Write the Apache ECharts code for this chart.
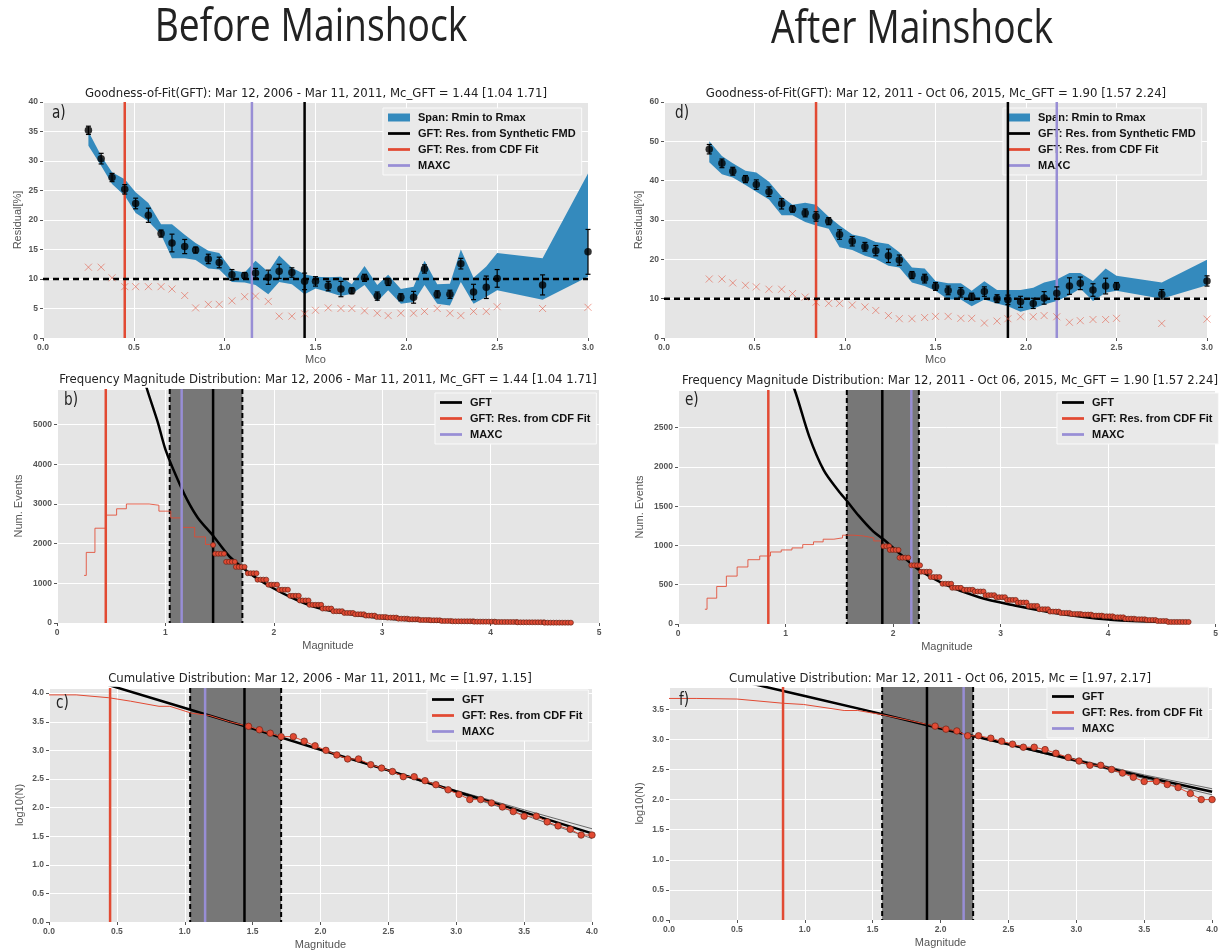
<!DOCTYPE html>
<html><head><meta charset="utf-8">
<script src="https://cdn.jsdelivr.net/npm/echarts@6/dist/echarts.min.js"></script>
<style>html,body{margin:0;padding:0;background:#fff}#chart{width:1221px;height:951px}</style>
</head><body><div id="chart"></div>
<script>
// ---------- Panel a / d : Goodness-of-fit ----------
const mco = [0.25,0.32,0.38,0.45,0.51,0.58,0.65,0.71,0.78,0.84,0.91,0.97,1.04,1.11,1.17,1.24,1.30,1.37,1.44,1.50,1.57,1.64,1.70,1.77,1.84,1.90,1.97,2.04,2.10,2.17,2.24,2.30,2.37,2.44,2.50,2.75,3.00];
const gftBefore    = [35.2,30.4,27.2,25.2,22.8,20.8,17.7,16.1,15.5,14.9,13.4,12.8,10.7,10.6,11.0,10.3,11.3,11.1,9.6,9.6,8.8,8.3,8.0,10.2,7.1,9.5,6.9,6.9,11.7,7.4,7.4,12.6,7.8,8.6,10.1,9.0,14.6];
const gftBeforeErr = [0.7,0.9,0.7,0.8,0.9,1.2,0.6,1.5,1.2,0.5,0.8,0.9,0.9,0.5,0.8,1.2,1.2,0.8,1.4,0.8,0.8,1.3,0.5,0.6,0.7,0.6,0.6,1.0,0.7,0.6,0.7,0.9,1.3,1.9,1.5,1.7,3.8];
const spanBeforeMax = [35.0,30.9,28.1,26.9,24.7,22.9,19.3,19.3,17.5,16.1,14.8,14.4,11.5,11.1,13.1,11.2,14.0,11.9,10.8,10.4,10.3,10.4,9.1,12.2,9.0,10.7,8.3,8.7,13.1,9.1,9.2,15.0,10.2,12.1,14.4,13.5,27.9];
const spanBeforeMin = [32.6,29.2,26.1,24.1,21.2,19.8,17.5,13.5,13.5,13.2,11.8,11.6,9.5,9.4,9.0,7.4,9.5,9.1,7.4,8.4,7.8,7.1,7.5,9.0,6.2,8.1,5.8,6.1,9.0,5.8,5.5,9.5,5.8,7.0,8.1,6.5,10.4];
const cdfResBefore = [12.0,12.0,10.2,8.7,8.7,8.7,8.7,8.3,7.2,5.1,5.7,5.7,6.3,7.0,7.1,6.2,3.7,3.7,4.1,4.7,5.1,5.0,5.0,4.6,4.2,3.8,4.2,4.2,4.5,5.0,4.2,3.8,4.5,4.5,5.3,5.0,5.2];

const gftAfter    = [48.0,44.4,42.4,40.4,39.0,37.2,34.1,32.8,31.8,30.9,29.7,26.3,24.6,23.2,22.2,20.9,19.8,16.0,15.1,13.1,12.1,11.6,10.5,11.8,10.0,9.7,9.2,8.8,10.2,11.4,13.2,13.9,12.2,13.2,13.2,11.1,14.5];
const gftAfterErr = [1.2,1.1,1.0,0.9,1.2,1.2,1.3,0.8,1.0,1.2,0.9,1.2,1.2,1.1,1.3,1.7,1.3,0.9,1.1,1.0,1.1,1.2,0.9,1.2,1.0,1.2,1.4,1.3,1.6,1.6,2.1,1.6,1.6,2.0,0.9,1.2,1.3];
const spanAfterMax = [50.0,46.3,44.4,42.5,42.1,39.7,35.9,33.9,34.4,33.9,30.8,28.6,26.3,25.6,24.4,23.9,21.8,17.9,17.7,14.5,13.9,13.9,12.0,14.4,12.2,12.2,12.2,12.8,14.1,14.9,16.5,16.5,14.5,17.7,15.8,14.1,19.9];
const spanAfterMin = [44.7,41.6,40.8,38.9,37.2,35.2,31.2,31.2,29.5,28.6,27.8,23.1,22.4,20.9,20.1,18.4,17.9,14.1,13.2,12.0,9.8,9.8,8.1,9.8,8.8,8.1,6.7,7.5,8.5,9.4,10.9,12.6,9.4,11.5,12.0,10.0,13.4];
const cdfResAfter = [15.0,15.0,14.0,13.4,13.0,12.4,12.4,11.3,10.4,9.1,8.8,8.8,8.4,7.9,7.0,5.7,4.9,4.9,5.2,5.5,5.5,5.0,5.0,3.8,4.3,4.9,5.4,5.4,5.7,5.4,4.0,4.4,4.7,4.7,5.0,3.7,4.8];

// Mc estimates: [CDF fit, GFT, MAXC, GFT low, GFT high]
const mcBefore = [0.45, 1.44, 1.15, 1.04, 1.71];
const mcAfter  = [0.84, 1.90, 2.17, 1.57, 2.24];

// ---------- Panel b / e : frequency magnitude distribution ----------
const fmdLowBeforeM = [0.25,0.27,0.35,0.45,0.55,0.64,0.85,0.94,1.05,1.15,1.27,1.37,1.44];
const fmdLowBeforeN = [1200,1780,2390,2720,2880,3000,2970,2820,2650,2410,2170,1980,1980];
const fmdBinBeforeM = [1.44,1.46,1.56,1.65,1.76,1.85,1.95,2.05,2.15,2.24,2.33,2.45,2.55,2.65,2.75,2.85,2.95,3.05,3.15,3.25,3.35,3.45,3.55,3.65,3.85,4.05,4.25,4.50,4.76];
const fmdBinBeforeN = [1966,1746,1542,1415,1254,1093,966,839,686,568,458,364,297,254,220,186,152,136,110,93,76,68,51,42,34,25,17,8];
const gftFmdBeforeM = [0.78,0.83,0.93,1.00,1.10,1.20,1.30,1.44,1.59,1.71,1.82,2.00,2.15,2.35,2.64,3.00,3.47,4.00,4.75];
const gftFmdBeforeN = [6400,5900,5060,4380,3700,3110,2650,2200,1680,1400,1170,870,660,430,250,120,45,17,3];

const fmdLowAfterM = [0.25,0.27,0.36,0.45,0.55,0.65,0.76,0.86,0.96,1.06,1.16,1.26,1.35,1.45,1.53,1.63,1.72,1.82,1.89,1.91];
const fmdLowAfterN = [188,329,478,610,726,819,866,917,943,969,1011,1046,1080,1097,1131,1122,1097,1058,1007,990];
const fmdBinAfterM = [1.91,1.97,2.06,2.17,2.26,2.35,2.46,2.55,2.66,2.76,2.86,2.96,3.06,3.16,3.26,3.36,3.46,3.56,3.66,3.76,3.86,3.96,4.06,4.16,4.26,4.36,4.46,4.56,4.76];
const fmdBinAfterN = [990,943,845,747,666,598,512,461,435,414,367,341,307,273,230,188,158,141,128,120,107,98,85,68,60,51,38,26];
const gftFmdAfterM = [1.02,1.085,1.22,1.355,1.49,1.575,1.68,1.815,1.91,2.08,2.24,2.47,2.80,3.13,3.46,3.79,4.12,4.74];
const gftFmdAfterN = [3150,2980,2390,1960,1700,1560,1380,1180,1080,875,690,512,340,235,150,85,43,17];

// ---------- Panel c / f : cumulative distribution ----------
const cdfLowBeforeM = [0.00,0.20,0.44,0.60,0.81,0.89,1.05,1.18,1.33,1.47];
const cdfLowBeforeV = [3.97,3.97,3.92,3.86,3.77,3.77,3.65,3.61,3.50,3.42];
const cdfPtsBeforeM = [1.47,1.55,1.63,1.71,1.80,1.88,1.96,2.04,2.12,2.20,2.28,2.37,2.45,2.53,2.61,2.69,2.77,2.85,2.94,3.02,3.10,3.18,3.26,3.34,3.42,3.50,3.59,3.67,3.75,3.84,3.92,4.00];
const cdfPtsBeforeV = [3.42,3.36,3.30,3.24,3.24,3.16,3.08,3.00,2.92,2.85,2.85,2.75,2.69,2.63,2.54,2.54,2.47,2.40,2.31,2.23,2.14,2.14,2.08,2.01,1.93,1.85,1.85,1.75,1.68,1.62,1.52,1.52];
const gftCdfBeforeM  = [0.40,1.00,1.50,2.00,2.50,3.00,3.50,4.00];
const gftCdfBeforeV  = [4.17,3.74,3.38,3.01,2.65,2.28,1.92,1.55];
const gftCdfBeforeV2 = [4.17,3.74,3.38,3.01,2.66,2.30,1.96,1.63];
const gftCdfBeforeV3 = [4.17,3.74,3.38,3.01,2.64,2.26,1.87,1.46];

const cdfLowAfterM = [0.00,0.20,0.50,0.84,0.99,1.29,1.39,1.57,1.78,1.96];
const cdfLowAfterV = [3.68,3.68,3.67,3.60,3.58,3.48,3.48,3.41,3.31,3.22];
const cdfPtsAfterM = [1.96,2.04,2.12,2.20,2.28,2.37,2.45,2.53,2.61,2.69,2.77,2.85,2.94,3.02,3.10,3.18,3.26,3.34,3.42,3.50,3.59,3.67,3.75,3.84,3.92,4.00];
const cdfPtsAfterV = [3.22,3.17,3.14,3.06,3.06,3.02,2.97,2.92,2.87,2.87,2.83,2.77,2.70,2.64,2.57,2.57,2.50,2.44,2.37,2.30,2.30,2.25,2.20,2.10,2.00,2.00];
const gftCdfAfterM  = [0.60,1.00,1.57,2.00,2.50,3.00,3.50,4.00];
const gftCdfAfterV  = [3.93,3.72,3.42,3.18,2.92,2.65,2.38,2.13];
const gftCdfAfterV2 = [3.93,3.72,3.42,3.18,2.93,2.67,2.41,2.18];
const gftCdfAfterV3 = [3.93,3.72,3.42,3.18,2.91,2.63,2.35,2.08];

// ---------- axis ranges ----------
const yMaxA = 40, yMaxD = 60, yMaxB = 5900, yMaxE = 2980, yMaxC = 4.09, yMaxF = 3.87;

const RED = '#E24A33', BLUE = '#348ABD', PURPLE = '#988ED5', GRAYSPAN = '#777777';
const zip = (a, b) => a.map((v, i) => [v, b[i]]);

// ---------- builders ----------
const TICKFONT = 'Liberation Sans';
function xAxis(gi, min, max, interval, fmt, name, gap) {
  return { type: 'value', gridIndex: gi, min, max, interval, name, nameLocation: 'middle', nameGap: gap,
    nameTextStyle: { color: '#555', fontSize: 11, fontFamily: TICKFONT },
    axisLine: { show: false }, axisTick: { show: true, length: 3, lineStyle: { color: '#555' } },
    axisLabel: { color: '#555', fontSize: 8.5, fontWeight: 'bold', fontFamily: TICKFONT, margin: 5, formatter: fmt },
    splitLine: { show: true, lineStyle: { color: '#ffffff', width: 1 } } };
}
function yAxis(gi, max, interval, fmt, name, gap, hideMax) {
  return { type: 'value', gridIndex: gi, min: 0, max, interval, name, nameLocation: 'middle', nameGap: gap,
    nameTextStyle: { color: '#555', fontSize: 11, fontFamily: TICKFONT },
    axisLine: { show: false }, axisTick: { show: true, length: 3, lineStyle: { color: '#555' } },
    axisLabel: { color: '#555', fontSize: 8.5, fontWeight: 'bold', fontFamily: TICKFONT, margin: 5, formatter: fmt, showMaxLabel: !hideMax },
    splitLine: { show: true, lineStyle: { color: '#ffffff', width: 1 } } };
}
function vline(gi, name, x, ymax, color, width, z) {
  return { type: 'line', name, xAxisIndex: gi, yAxisIndex: gi, data: [[x, 0], [x, ymax]], symbol: 'none',
    lineStyle: { color, width }, itemStyle: { color }, silent: true, z: z || 5, animation: false };
}
function spanSeries(gi, x0, x1, ymax) {
  return { type: 'custom', xAxisIndex: gi, yAxisIndex: gi, silent: true, z: 1, data: [[x0, x1, ymax]],
    renderItem(params, api) {
      const a = api.coord([api.value(0), api.value(2)]);
      const b = api.coord([api.value(1), 0]);
      const dash = { stroke: '#000', lineWidth: 2, lineDash: [5, 3] };
      return { type: 'group', children: [
        { type: 'rect', shape: { x: a[0], y: a[1], width: b[0] - a[0], height: b[1] - a[1] }, style: { fill: GRAYSPAN } },
        { type: 'line', shape: { x1: a[0], y1: a[1], x2: a[0], y2: b[1] }, style: dash },
        { type: 'line', shape: { x1: b[0], y1: a[1], x2: b[0], y2: b[1] }, style: dash }
      ] };
    } };
}
function bandSeries(gi, xs, hi, lo) {
  return { type: 'custom', name: 'Span: Rmin to Rmax', xAxisIndex: gi, yAxisIndex: gi, silent: true, z: 2,
    itemStyle: { color: BLUE }, data: xs.map((x, i) => [x, hi[i], lo[i]]),
    renderItem(params, api) {
      if (params.dataIndex !== 0) return null;
      const pts = [];
      for (let i = 0; i < xs.length; i++) pts.push(api.coord([xs[i], hi[i]]));
      for (let i = xs.length - 1; i >= 0; i--) pts.push(api.coord([xs[i], lo[i]]));
      return { type: 'polygon', shape: { points: pts }, style: { fill: BLUE } };
    } };
}
function errSeries(gi, xs, ys, es) {
  return { type: 'custom', xAxisIndex: gi, yAxisIndex: gi, silent: true, z: 8,
    data: xs.map((x, i) => [x, ys[i] - es[i], ys[i] + es[i]]),
    renderItem(params, api) {
      const p0 = api.coord([api.value(0), api.value(1)]);
      const p1 = api.coord([api.value(0), api.value(2)]);
      const st = { stroke: '#000', lineWidth: 1.2 };
      return { type: 'group', children: [
        { type: 'line', shape: { x1: p0[0], y1: p0[1], x2: p1[0], y2: p1[1] }, style: st },
        { type: 'line', shape: { x1: p0[0] - 2.5, y1: p0[1], x2: p0[0] + 2.5, y2: p0[1] }, style: st },
        { type: 'line', shape: { x1: p1[0] - 2.5, y1: p1[1], x2: p1[0] + 2.5, y2: p1[1] }, style: st }
      ] };
    } };
}
function binCircles(gi, starts, counts) {
  return { type: 'custom', xAxisIndex: gi, yAxisIndex: gi, silent: true, z: 9,
    data: counts.map((n, i) => [starts[i], starts[i + 1], n]),
    renderItem(params, api) {
      const p0 = api.coord([api.value(0), api.value(2)]);
      const p1 = api.coord([api.value(1), api.value(2)]);
      const ch = [];
      for (let x = p0[0]; x < p1[0] - 0.5 || ch.length === 0; x += 2.9) {
        ch.push({ type: 'circle', shape: { cx: x, cy: p0[1], r: 2.5 }, style: { fill: RED, stroke: '#6a2417', lineWidth: 0.7 } });
      }
      return { type: 'group', children: ch };
    } };
}
function plainLine(gi, name, data, color, width, z, extra) {
  return Object.assign({ type: 'line', name, xAxisIndex: gi, yAxisIndex: gi, data, symbol: 'none',
    lineStyle: { color, width }, itemStyle: { color }, silent: true, z: z, animation: false }, extra || {});
}

function gftPanel(gi, ymax, ys, es, hi, lo, xres, mc) {
  return [
    bandSeries(gi, mco, hi, lo),
    plainLine(gi, 'hline10', [[0, 10], [3, 10]], '#000', 2.5, 6, { lineStyle: { color: '#000', width: 2.5, type: [6, 4] } }),
    vline(gi, 'GFT: Res. from CDF Fit', mc[0], ymax, RED, 2.5, 5),
    vline(gi, 'MAXC', mc[2], ymax, PURPLE, 2.5, 5),
    vline(gi, 'GFT: Res. from Synthetic FMD', mc[1], ymax, '#000', 2.5, 5),
    { type: 'scatter', xAxisIndex: gi, yAxisIndex: gi, data: zip(mco, xres), symbol: 'path://M0,0L10,10M10,0L0,10',
      symbolSize: 7, itemStyle: { color: 'rgba(0,0,0,0)', borderColor: 'rgba(226,74,51,0.65)', borderWidth: 1 }, silent: true, z: 7 },
    errSeries(gi, mco, ys, es),
    { type: 'scatter', xAxisIndex: gi, yAxisIndex: gi, data: zip(mco, ys), symbol: 'circle', symbolSize: 7.5,
      itemStyle: { color: '#000' }, silent: true, z: 9 }
  ];
}
function fmdPanel(gi, ymax, lowM, lowN, binM, binN, gM, gN, mc) {
  return [
    spanSeries(gi, mc[3], mc[4], ymax),
    plainLine(gi, 'GFT', zip(gM, gN), '#000', 2.5, 3, { smooth: 0.3 }),
    plainLine(gi, 'lowfmd', zip(lowM, lowN), RED, 1, 4, { step: 'end', lineStyle: { color: RED, width: 1, opacity: 0.85 } }),
    vline(gi, 'GFT: Res. from CDF Fit', mc[0], ymax, RED, 2.5, 5),
    vline(gi, 'MAXC', mc[2], ymax, PURPLE, 2.5, 5),
    vline(gi, 'GFTv', mc[1], ymax, '#000', 2.5, 5),
    binCircles(gi, binM, binN)
  ];
}
function cdfPanel(gi, ymax, lowM, lowV, pM, pV, gM, gV, gV2, gV3, mc) {
  return [
    spanSeries(gi, mc[3], mc[4], ymax),
    plainLine(gi, 'gftv2', zip(gM, gV2), 'rgba(0,0,0,0.55)', 1, 3),
    plainLine(gi, 'gftv3', zip(gM, gV3), 'rgba(0,0,0,0.55)', 1, 3),
    plainLine(gi, 'GFT', zip(gM, gV), '#000', 2.5, 3),
    plainLine(gi, 'lowcdf', zip(lowM, lowV), RED, 1, 4),
    vline(gi, 'GFT: Res. from CDF Fit', mc[0], ymax, RED, 2.5, 5),
    vline(gi, 'MAXC', mc[2], ymax, PURPLE, 2.5, 5),
    vline(gi, 'GFTv', mc[1], ymax, '#000', 2.5, 5),
    { type: 'line', xAxisIndex: gi, yAxisIndex: gi, data: zip(pM, pV), symbol: 'circle', symbolSize: 6.5, showSymbol: true,
      lineStyle: { color: RED, width: 1 }, itemStyle: { color: RED, borderColor: '#6a2417', borderWidth: 0.7 }, silent: true, z: 9, animation: false }
  ];
}

const grids = [
  { left: 43, top: 102, width: 545, height: 236 },   // a
  { left: 664, top: 102, width: 543, height: 236 },  // d
  { left: 57, top: 389, width: 542, height: 234 },   // b
  { left: 678, top: 390, width: 542, height: 234 },  // e
  { left: 49, top: 688, width: 543, height: 234 },   // c
  { left: 669, top: 687, width: 544, height: 233 }   // f
].map(g => Object.assign(g, { show: true, backgroundColor: '#E5E5E5', borderWidth: 0, containLabel: false }));

const f1 = v => v.toFixed(1), f0 = v => String(Math.round(v));
const xAxes = [
  xAxis(0, 0, 3, 0.5, f1, 'Mco', 16),
  xAxis(1, 0, 3, 0.5, f1, 'Mco', 16),
  xAxis(2, 0, 5, 1, f0, 'Magnitude', 17),
  xAxis(3, 0, 5, 1, f0, 'Magnitude', 17),
  xAxis(4, 0, 4, 0.5, f1, 'Magnitude', 17),
  xAxis(5, 0, 4, 0.5, f1, 'Magnitude', 17)
];
const yAxes = [
  yAxis(0, yMaxA, 5, f0, 'Residual[%]', 20, false),
  yAxis(1, yMaxD, 10, f0, 'Residual[%]', 20, false),
  yAxis(2, yMaxB, 1000, f0, 'Num. Events', 33, true),
  yAxis(3, yMaxE, 500, f0, 'Num. Events', 33, true),
  yAxis(4, yMaxC, 0.5, f1, 'log10(N)', 24, true),
  yAxis(5, yMaxF, 0.5, f1, 'log10(N)', 24, true)
];

const series = [].concat(
  gftPanel(0, yMaxA, gftBefore, gftBeforeErr, spanBeforeMax, spanBeforeMin, cdfResBefore, mcBefore),
  gftPanel(1, yMaxD, gftAfter, gftAfterErr, spanAfterMax, spanAfterMin, cdfResAfter, mcAfter),
  fmdPanel(2, yMaxB, fmdLowBeforeM, fmdLowBeforeN, fmdBinBeforeM, fmdBinBeforeN, gftFmdBeforeM, gftFmdBeforeN, mcBefore),
  fmdPanel(3, yMaxE, fmdLowAfterM, fmdLowAfterN, fmdBinAfterM, fmdBinAfterN, gftFmdAfterM, gftFmdAfterN, mcAfter),
  cdfPanel(4, yMaxC, cdfLowBeforeM, cdfLowBeforeV, cdfPtsBeforeM, cdfPtsBeforeV, gftCdfBeforeM, gftCdfBeforeV, gftCdfBeforeV2, gftCdfBeforeV3, mcBefore),
  cdfPanel(5, yMaxF, cdfLowAfterM, cdfLowAfterV, cdfPtsAfterM, cdfPtsAfterV, gftCdfAfterM, gftCdfAfterV, gftCdfAfterV2, gftCdfAfterV3, mcAfter)
);

const LINE_ICON = 'path://M0,0H24V3H0Z';
function legend(left, top, names) {
  return { left, top, orient: 'vertical', selectedMode: false, itemGap: 5, itemWidth: 22, itemHeight: 8,
    symbolKeepAspect: true,
    padding: [4, 6, 4, 5], backgroundColor: '#e9e9e9', borderColor: '#fafafa', borderWidth: 1, borderRadius: 0,
    textStyle: { fontFamily: TICKFONT, fontWeight: 'bold', fontSize: 11, color: '#111', padding: [0, 0, 0, 3] },
    data: names.map(n => ({ name: n, icon: n === 'Span: Rmin to Rmax' ? 'rect' : LINE_ICON })) };
}
const legGFT = ['Span: Rmin to Rmax', 'GFT: Res. from Synthetic FMD', 'GFT: Res. from CDF Fit', 'MAXC'];
const legFMD = ['GFT', 'GFT: Res. from CDF Fit', 'MAXC'];

// ---------- texts ----------
const SQ = 0.9;
function txt(x, y, text, size, family, scale, color) {
  return { type: 'text', x, y, scaleX: scale, silent: true, z: 100,
    style: { text, fontSize: size, fontFamily: family, fill: color || '#222',
      align: 'center', verticalAlign: 'top', textAlign: 'center', textVerticalAlign: 'top' } };
}
function lbl(x, y, text) {
  return { type: 'text', x, y, scaleX: 0.8, silent: true, z: 100,
    style: { text, fontSize: 17, fontFamily: 'DejaVu Sans', fill: '#222', align: 'left', verticalAlign: 'top', textAlign: 'left', textVerticalAlign: 'top' } };
}
const titleTexts = [
  txt(311, 5, 'Before Mainshock', 46, 'Open Sans', 0.81),
  txt(912, 7, 'After Mainshock', 46, 'Open Sans', 0.81),
  txt(316, 87, 'Goodness-of-Fit(GFT): Mar 12, 2006 - Mar 11, 2011, Mc_GFT = 1.44 [1.04 1.71]', 13, 'DejaVu Sans', SQ),
  txt(936, 87, 'Goodness-of-Fit(GFT): Mar 12, 2011 - Oct 06, 2015, Mc_GFT = 1.90 [1.57 2.24]', 13, 'DejaVu Sans', SQ),
  txt(328, 373, 'Frequency Magnitude Distribution: Mar 12, 2006 - Mar 11, 2011, Mc_GFT = 1.44 [1.04 1.71]', 13, 'DejaVu Sans', SQ),
  txt(950, 374, 'Frequency Magnitude Distribution: Mar 12, 2011 - Oct 06, 2015, Mc_GFT = 1.90 [1.57 2.24]', 13, 'DejaVu Sans', SQ),
  txt(320, 672, 'Cumulative Distribution: Mar 12, 2006 - Mar 11, 2011, Mc = [1.97, 1.15]', 13, 'DejaVu Sans', SQ),
  txt(940, 672, 'Cumulative Distribution: Mar 12, 2011 - Oct 06, 2015, Mc = [1.97, 2.17]', 13, 'DejaVu Sans', SQ),
  lbl(52, 105, 'a)'), lbl(675, 105, 'd)'), lbl(64, 392, 'b)'), lbl(685, 392, 'e)'), lbl(56, 695, 'c)'), lbl(679, 692, 'f)')
];

const chart = echarts.init(document.getElementById('chart'), null, { renderer: 'canvas' });
chart.setOption({
  animation: false,
  backgroundColor: '#ffffff',
  grid: grids,
  xAxis: xAxes,
  yAxis: yAxes,
  legend: [
    legend(383, 108, legGFT), legend(1003, 108, legGFT),
    legend(435, 393, legFMD), legend(1057, 393, legFMD),
    legend(427, 690, legFMD), legend(1047, 687, legFMD)
  ],
  graphic: { elements: titleTexts },
  series
});
</script></body></html>
